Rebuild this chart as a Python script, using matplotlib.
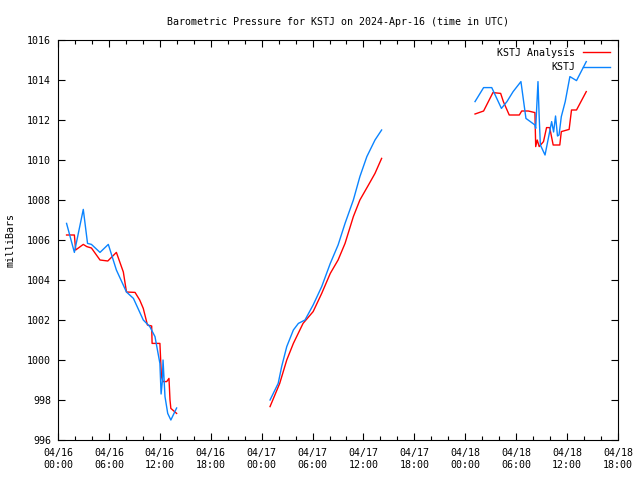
import numpy as np
import matplotlib.pyplot as plt
from matplotlib.ticker import MultipleLocator

# hours since 2024-04-16 00:00 UTC, NaN marks the gaps in the record
stj_hours = [1.01, 1.93, 2.98, 3.48, 3.94, 4.95, 5.93, 6.88, 8.07, 8.89, 10.05, 10.82,
             11.43, 12.01, 12.15, 12.29, 12.38, 12.61, 12.93, 13.30, 13.98, np.nan,
             24.99, 25.95, 26.36, 26.96, 27.74, 28.33, 29.11, 30.07, 31.08, 32.09,
             33.01, 33.83, 34.81, 35.58, 36.40, 37.36, 38.14, np.nan,
             49.15, 50.16, 51.12, 52.26, 52.91, 53.64, 54.56, 55.15, 56.21, 56.30,
             56.57, 56.71, 56.85, 57.40, 58.18, 58.41, 58.64, 58.87, 59.05, 59.32,
             59.78, 60.33, 61.11, 62.26]
stj_mb = [1006.83, 1005.38, 1007.53, 1005.83, 1005.78, 1005.38, 1005.78, 1004.5,
          1003.4, 1003.08, 1002.0, 1001.67, 1001.17, 999.83, 998.3, 998.9, 1000.0,
          998.17, 997.33, 997.0, 997.6, np.nan,
          998.0, 998.83, 999.67, 1000.67, 1001.5, 1001.83, 1002.0, 1002.75, 1003.67,
          1004.83, 1005.75, 1006.83, 1008.0, 1009.17, 1010.17, 1011.0, 1011.5, np.nan,
          1012.92, 1013.62, 1013.62, 1012.58, 1012.92, 1013.42, 1013.92, 1012.08,
          1011.75, 1011.58, 1013.92, 1012.17, 1010.75, 1010.25, 1011.92, 1011.4,
          1012.2, 1011.2, 1011.25, 1012.17, 1012.92, 1014.17, 1013.97, 1014.92]

ana_hours = [1.01, 1.93, 2.08, 2.98, 3.39, 3.94, 4.95, 5.87, 6.88, 7.70, 8.07, 9.08,
             9.63, 10.05, 10.54, 11.04, 11.09, 12.01, 12.19, 12.38, 12.81, 13.08,
             13.20, 13.30, 13.98, np.nan,
             24.99, 26.13, 26.96, 27.74, 28.88, 30.07, 31.08, 32.09, 33.01, 33.83,
             34.81, 35.58, 36.59, 37.36, 38.14, np.nan,
             49.15, 50.16, 51.26, 52.17, 52.49, 53.18, 54.37, 54.65, 55.43, 56.21,
             56.30, 56.48, 56.71, 57.22, 57.58, 57.95, 58.36, 59.14, 59.32, 60.24,
             60.52, 61.11, 62.26]
ana_mb = [1006.25, 1006.25, 1005.5, 1005.78, 1005.67, 1005.6, 1005.0, 1004.95,
          1005.38, 1004.4, 1003.4, 1003.38, 1003.0, 1002.58, 1001.75, 1001.7,
          1000.83, 1000.83, 999.17, 998.92, 998.92, 999.08, 998.0, 997.58, 997.33,
          np.nan,
          997.67, 998.83, 1000.0, 1000.83, 1001.83, 1002.42, 1003.33, 1004.33,
          1005.0, 1005.83, 1007.17, 1008.0, 1008.75, 1009.33, 1010.08, np.nan,
          1012.3, 1012.45, 1013.37, 1013.33, 1012.92, 1012.25, 1012.25, 1012.45,
          1012.45, 1012.37, 1010.67, 1011.0, 1010.67, 1010.92, 1011.62, 1011.62,
          1010.75, 1010.75, 1011.42, 1011.53, 1012.5, 1012.5, 1013.42]

tick_hours = [0, 6, 12, 18, 24, 30, 36, 42, 48, 54, 60, 66]
tick_labels = ["04/16\n00:00", "04/16\n06:00", "04/16\n12:00", "04/16\n18:00",
               "04/17\n00:00", "04/17\n06:00", "04/17\n12:00", "04/17\n18:00",
               "04/18\n00:00", "04/18\n06:00", "04/18\n12:00", "04/18\n18:00"]

plt.rcParams['font.family'] = 'DejaVu Sans Mono'
plt.rcParams['font.size'] = 7.2

fig = plt.figure(figsize=(6.4, 4.8), dpi=100)
ax = fig.add_axes([58 / 640, 40 / 480, 560 / 640, 400 / 480])

ax.plot(ana_hours, ana_mb, color='#ff0000', lw=1.0, label='KSTJ Analysis')
ax.plot(stj_hours, stj_mb, color='#0a84ff', lw=1.0, label='KSTJ')

ax.set_xlim(0, 66)
ax.set_ylim(996, 1016)
ax.set_xticks(tick_hours)
ax.set_xticklabels(tick_labels)
ax.xaxis.set_minor_locator(MultipleLocator(2))
ax.yaxis.set_major_locator(MultipleLocator(2))
ax.tick_params(which='both', direction='in', top=True, right=True, color='black')
ax.tick_params(which='major', length=5, width=0.8, pad=6)
ax.tick_params(which='minor', length=3, width=0.8)
ax.tick_params(axis='y', which='major', pad=5)
for s in ax.spines.values():
    s.set_linewidth(0.8)

ax.set_ylabel('milliBars', labelpad=8)
ax.set_title('Barometric Pressure for KSTJ on 2024-Apr-16 (time in UTC)',
             fontsize=7.2, pad=11)

leg = ax.legend(loc='upper right', frameon=False, markerfirst=False,
                handlelength=2.7, handletextpad=0.8, borderaxespad=0.4,
                labelspacing=0.45, borderpad=0.4)
for t in leg.get_texts():
    t.set_ha('right')

fig.savefig('out.png', dpi=100)
